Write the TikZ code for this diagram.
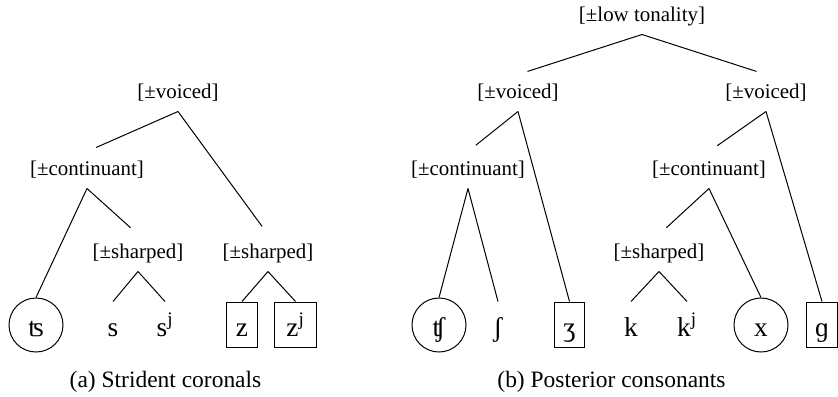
\documentclass[tikz,border=0pt]{standalone}
\usepackage{fontspec}
\setmainfont{Liberation Serif}

\tikzset{every picture/.style={line width=0.75pt}}
\tikzset{
  feat/.style={inner sep=0pt, minimum height=27pt},
  leaf/.style={anchor=base, inner ysep=0pt, inner xsep=6.75pt, text height=25.5pt, text depth=8.25pt,
    font=\fontsize{20.5}{24}\selectfont},
  seg/.style={leaf, draw, minimum width=22.5pt},
  ring/.style={anchor=base, circle, draw, inner sep=0pt, minimum size=40.5pt, text height=16.5pt, text depth=0pt,
    font=\fontsize{20.5}{24}\selectfont},
  caption/.style={font=\fontsize{17.6}{20}\selectfont},
  tofeat/.style={shorten >=7.5pt}
}

\begin{document}
\begin{tikzpicture}[x=0.75pt,y=0.75pt,yscale=-1,xscale=1,
  every node/.style={font=\fontsize{15.7}{18}\selectfont}]
\useasboundingbox (0,0) rectangle (838,396);

% (a) strident coronals
% Text Node
\node [feat] (av) at (178,93) {[±voiced]};
\node [feat] (ac) at (87,170) {[±continuant]};
\node [feat] (as1) at (138,253) {[±sharped]};
\node [feat] (as2) at (268,253) {[±sharped]};
% Leaves
\node [ring] (ts) at (36,336) {ʦ};
\node [leaf] (s) at (113,336) {s};
\node [leaf] (sj) at (165,336) {s\textsuperscript{j}};
\node [seg] (z) at (242,336) {z};
\node [seg, minimum width=32pt] (zj) at (295.5,336) {z\textsuperscript{j}};
% Straight Lines
\draw [tofeat] (av.south) -- (ac.north);
\draw [tofeat] (av.south) -- (as2.north);
\draw (ac.south) -- (ts.north);
\draw [tofeat] (ac.south) -- (as1.north);
\draw (as1.south) -- (s.north);
\draw (as1.south) -- (sj.north);
\draw (as2.south) -- (z.north);
\draw (as2.south) -- (zj.north);
% Caption
\node [caption] (acap) at (165.5,382) {(a) Strident coronals};

% (b) posterior consonants
% Text Node
\node [feat] (bt) at (642,16) {[±low tonality]};
\node [feat] (bv1) at (518,93) {[±voiced]};
\node [feat] (bv2) at (766,93) {[±voiced]};
\node [feat] (bc1) at (468,170) {[±continuant]};
\node [feat] (bc2) at (709,170) {[±continuant]};
\node [feat] (bs) at (659,253) {[±sharped]};
% Leaves
\node [ring] (tsh) at (439,336) {ʧ};
\node [leaf] (sh) at (498,336) {ʃ};
\node [seg] (zh) at (569.5,336) {ʒ};
\node [leaf] (k) at (631,336) {k};
\node [leaf] (kj) at (687,336) {k\textsuperscript{j}};
\node [ring] (x) at (761,336) {x};
\node [seg] (g) at (822,336) {ɡ};
% Straight Lines
\draw [tofeat] (bt.south) -- (bv1.north);
\draw [tofeat] (bt.south) -- (bv2.north);
\draw [tofeat] (bv1.south) -- (bc1.north);
\draw (bv1.south) -- (zh.north);
\draw (bc1.south) -- (tsh.north);
\draw (bc1.south) -- (sh.north);
\draw [tofeat] (bv2.south) -- (bc2.north);
\draw (bv2.south) -- (g.north);
\draw [tofeat] (bc2.south) -- (bs.north);
\draw (bc2.south) -- (x.north);
\draw (bs.south) -- (k.north);
\draw (bs.south) -- (kj.north);
% Caption
\node [caption] (bcap) at (611.5,382) {(b) Posterior consonants};

\end{tikzpicture}
\end{document}
